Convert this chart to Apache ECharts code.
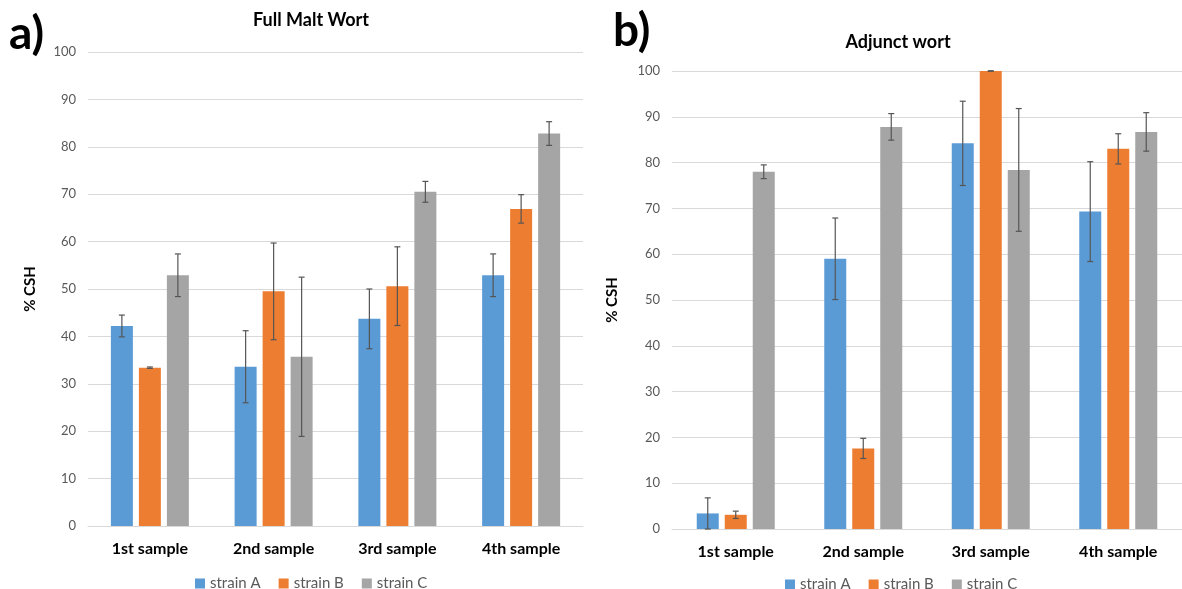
<!DOCTYPE html>
<html><head><meta charset="utf-8">
<script src="https://cdn.jsdelivr.net/npm/echarts@6/dist/echarts.min.js"></script>
<style>html,body{margin:0;padding:0;background:#fff}#c{width:1182px;height:589px}</style>
</head><body><div id="c"></div>
<script>
const categories = ['1st sample', '2nd sample', '3rd sample', '4th sample'];
const seriesNames = ['strain A', 'strain B', 'strain C'];
const yTicks = [0, 10, 20, 30, 40, 50, 60, 70, 80, 90, 100];
// Full malt wort
const fullA = [42.2, 33.6, 43.7, 52.9];
const fullB = [33.4, 49.5, 50.6, 66.9];
const fullC = [52.9, 35.7, 70.5, 82.8];
const fullAErr = [2.3, 7.6, 6.3, 4.5];
const fullBErr = [0.15, 10.2, 8.3, 3.0];
const fullCErr = [4.5, 16.8, 2.2, 2.5];
// Adjunct wort
const adjA = [3.4, 59.0, 84.2, 69.3];
const adjB = [3.1, 17.6, 100, 83.0];
const adjC = [78.0, 87.8, 78.4, 86.7];
const adjAErr = [3.4, 8.9, 9.2, 10.9];
const adjBErr = [0.8, 2.2, 0.05, 3.3];
const adjCErr = [1.5, 2.9, 13.4, 4.2];

const colors = ['#5B9BD5', '#ED7D31', '#A5A5A5'];
const FONT = 'Lato, "Open Sans", sans-serif';
const BW = 22, GAP = 6;

function barSeries(name, data, idx, color) {
  return { type: 'bar', name, data, xAxisIndex: idx, yAxisIndex: idx, barWidth: BW, barGap: (GAP / BW * 100) + '%',
    itemStyle: { color }, emphasis: { disabled: true } };
}
function errSeries(vals, errs, idx, k) {
  const data = vals.map((v, i) => [i, v - errs[i], v + errs[i]]);
  const off = (k - 1) * (BW + GAP);
  return { type: 'custom', xAxisIndex: idx, yAxisIndex: idx, data, z: 10, silent: true,
    renderItem(params, api) {
      const lo = api.coord([api.value(0), api.value(1)]);
      const hi = api.coord([api.value(0), api.value(2)]);
      const x = lo[0] + off;
      const st = { stroke: '#555', lineWidth: 1.2 };
      return { type: 'group', children: [
        { type: 'line', shape: { x1: x, y1: lo[1], x2: x, y2: hi[1] }, style: st },
        { type: 'line', shape: { x1: x - 3, y1: lo[1], x2: x + 3, y2: lo[1] }, style: st },
        { type: 'line', shape: { x1: x - 3, y1: hi[1], x2: x + 3, y2: hi[1] }, style: st }
      ]};
    } };
}
function xAx(idx) {
  return { type: 'category', gridIndex: idx, data: categories,
    axisLine: { lineStyle: { color: '#D9D9D9', width: 1 } }, axisTick: { show: false },
    axisLabel: { color: '#000', fontWeight: 'bold', fontSize: 16, fontFamily: FONT, margin: 15 } };
}
function yAx(idx, gap) {
  return { type: 'value', gridIndex: idx, min: yTicks[0], max: yTicks[yTicks.length - 1], interval: yTicks[1] - yTicks[0],
    name: '% CSH', nameLocation: 'middle', nameGap: gap, nameRotate: 90,
    nameTextStyle: { color: '#000', fontWeight: 'bold', fontSize: 15, fontFamily: FONT },
    axisLine: { show: false }, axisTick: { show: false },
    axisLabel: { color: '#595959', fontSize: 13, fontFamily: FONT, margin: 12 },
    splitLine: { lineStyle: { color: '#D9D9D9', width: 1 } } };
}
const legendBase = { data: seriesNames, icon: 'rect', itemWidth: 10, itemHeight: 10, itemGap: 18,
  textStyle: { color: '#595959', fontSize: 15, fontFamily: FONT }, selectedMode: false };

const option = {
  animation: false,
  color: colors,
  textStyle: { fontFamily: FONT },
  grid: [
    { left: 88, right: 599, top: 52, bottom: 63 },
    { left: 672, right: -6, top: 71, bottom: 60 }
  ],
  xAxis: [xAx(0), xAx(1)],
  yAxis: [yAx(0, 50), yAx(1, 52)],
  legend: [
    Object.assign({}, legendBase, { left: 190, top: 571 }),
    Object.assign({}, legendBase, { left: 780, top: 572 })
  ],
  graphic: [
    { type: 'text', left: 9, top: 11, style: { text: 'a)', font: 'bold 46px ' + FONT, fill: '#000' } },
    { type: 'text', left: 613, top: 8, style: { text: 'b)', font: 'bold 46px ' + FONT, fill: '#000' } },
    { type: 'text', x: 311, y: 11, style: { text: 'Full Malt Wort', font: 'bold 18px ' + FONT, fill: '#000', textAlign: 'center' } },
    { type: 'text', x: 898, y: 33, style: { text: 'Adjunct wort', font: 'bold 18px ' + FONT, fill: '#000', textAlign: 'center' } }
  ],
  series: [
    barSeries('strain A', fullA, 0, colors[0]),
    barSeries('strain B', fullB, 0, colors[1]),
    barSeries('strain C', fullC, 0, colors[2]),
    barSeries('strain A', adjA, 1, colors[0]),
    barSeries('strain B', adjB, 1, colors[1]),
    barSeries('strain C', adjC, 1, colors[2]),
    errSeries(fullA, fullAErr, 0, 0), errSeries(fullB, fullBErr, 0, 1), errSeries(fullC, fullCErr, 0, 2),
    errSeries(adjA, adjAErr, 1, 0), errSeries(adjB, adjBErr, 1, 1), errSeries(adjC, adjCErr, 1, 2)
  ]
};
echarts.init(document.getElementById('c')).setOption(option);
</script></body></html>
